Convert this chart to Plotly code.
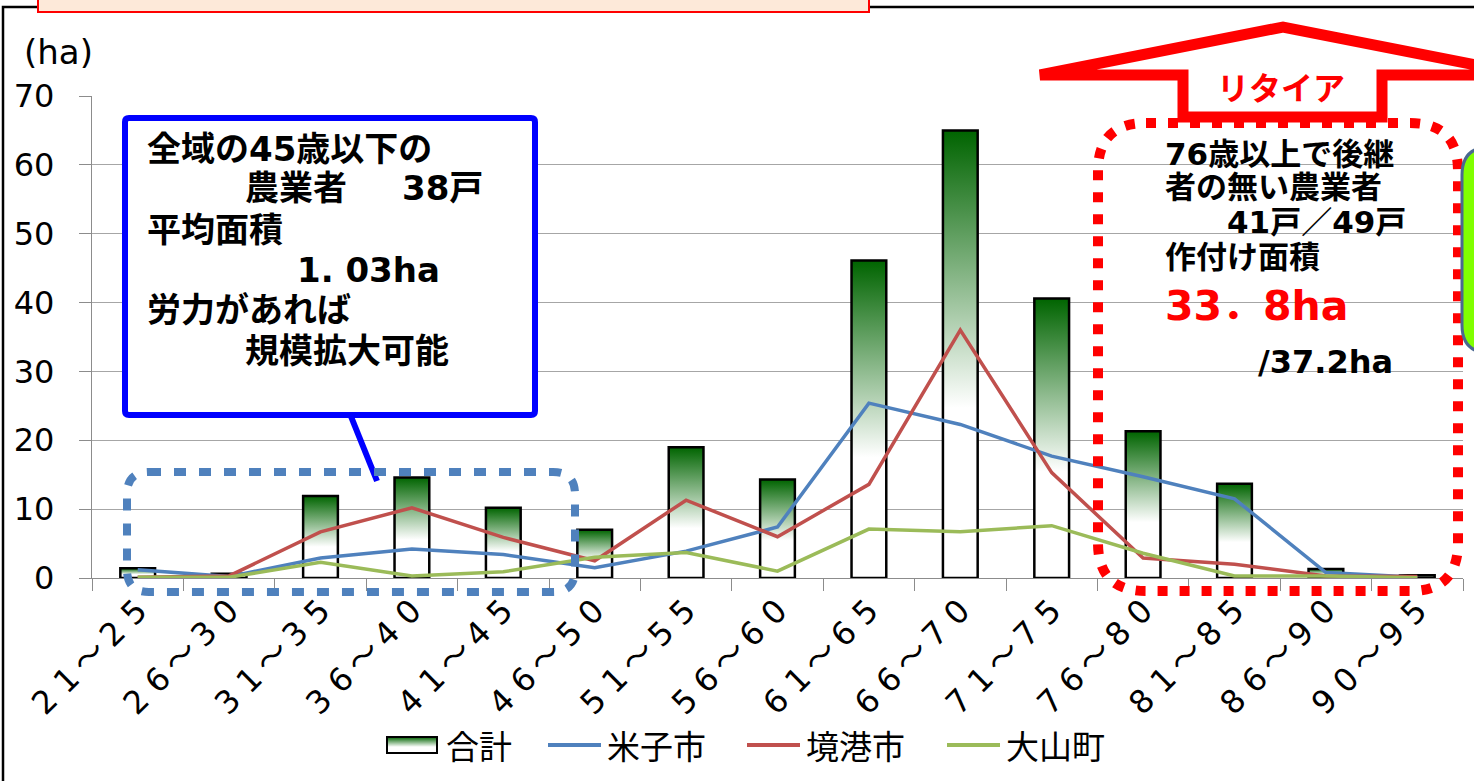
import plotly.graph_objects as go

# Farmland area by farmer age group (ha)
age_groups = ["21～25", "26～30", "31～35", "36～40", "41～45",
              "46～50", "51～55", "56～60", "61～65", "66～70",
              "71～75", "76～80", "81～85", "86～90", "90～95"]
total_ha = [1.4, 0.6, 11.9, 14.6, 10.2, 7.0, 19.0, 14.3, 46.1, 65.0, 40.6, 21.3, 13.7, 1.3, 0.4]
yonago_ha = [1.2, 0.2, 2.9, 4.2, 3.4, 1.5, 3.9, 7.4, 25.4, 22.3, 17.7, 14.7, 11.5, 0.8, 0.1]
sakaiminato_ha = [0.1, 0.3, 6.7, 10.2, 5.9, 2.5, 11.3, 6.0, 13.6, 36.0, 15.3, 2.9, 2.0, 0.3, 0.2]
daisen_ha = [0.1, 0.1, 2.3, 0.3, 0.9, 3.0, 3.7, 1.0, 7.1, 6.7, 7.6, 3.6, 0.3, 0.3, 0.05]
y_ticks = [0, 10, 20, 30, 40, 50, 60, 70]

series = [("米子市", yonago_ha, "#4F81BD"),
          ("境港市", sakaiminato_ha, "#C0504D"),
          ("大山町", daisen_ha, "#9BBB59")]

W, H = 1474, 781
PLOT_L, PLOT_R, PLOT_T, PLOT_B = 92, 1463, 96, 578
BAR_HALF = 0.19
GREEN_TOP = (0, 100, 0)
WHITE_UNTIL = 0.38

JP = "Noto Sans CJK JP"
MIX = "DejaVu Sans, Noto Sans CJK JP"


def fx(p):
    return (p - PLOT_L) / (PLOT_R - PLOT_L)


def fy(p):
    return (PLOT_B - p) / (PLOT_B - PLOT_T)


def rounded_path(x0, y0, x1, y1, r):
    return (f"M {fx(x0 + r)},{fy(y0)} L {fx(x1 - r)},{fy(y0)} "
            f"Q {fx(x1)},{fy(y0)} {fx(x1)},{fy(y0 + r)} "
            f"L {fx(x1)},{fy(y1 - r)} Q {fx(x1)},{fy(y1)} {fx(x1 - r)},{fy(y1)} "
            f"L {fx(x0 + r)},{fy(y1)} Q {fx(x0)},{fy(y1)} {fx(x0)},{fy(y1 - r)} "
            f"L {fx(x0)},{fy(y0 + r)} Q {fx(x0)},{fy(y0)} {fx(x0 + r)},{fy(y0)} Z")


def poly_path(points):
    parts = [f"{fx(x)},{fy(y)}" for x, y in points]
    return "M " + " L ".join(parts) + " Z"


def text_at(text, x, y, size, color="black", family=MIX, anchor="left"):
    return dict(text=text, x=fx(x), y=fy(y), xref="paper", yref="paper",
                xanchor=anchor, yanchor="middle", showarrow=False,
                font=dict(size=size, color=color, family=family))


def spaced(label):
    # wide-set digits around the full-width tilde
    lo, hi = label.split("～")
    return " ".join(lo) + "\u2009～\u2009" + " ".join(hi)


def gradient_color(t):
    # t: 0 at column base, 1 at column top
    if t <= WHITE_UNTIL:
        return "rgb(255,255,255)"
    k = (t - WHITE_UNTIL) / (1 - WHITE_UNTIL)
    r, g, b = (round(255 + (c - 255) * k) for c in GREEN_TOP)
    return f"rgb({r},{g},{b})"


fig = go.Figure()

# Total area: outlined columns with a green-to-white vertical gradient
for i, v in enumerate(total_ha):
    fig.add_trace(go.Scatter(
        x=[i - BAR_HALF, i - BAR_HALF, i + BAR_HALF, i + BAR_HALF, i - BAR_HALF],
        y=[0, v, v, 0, 0],
        mode="lines", fill="toself",
        line=dict(color="black", width=2.5),
        fillgradient=dict(type="vertical", start=0, stop=v,
                          colorscale=[[0, "#ffffff"], [WHITE_UNTIL, "#ffffff"], [1, "#006400"]]),
        name="合計", showlegend=False, hoverinfo="skip",
    ))

x_idx = list(range(len(age_groups)))
for name, vals, color in series:
    fig.add_trace(go.Scatter(x=x_idx, y=vals, mode="lines", name=name, showlegend=False,
                             line=dict(color=color, width=3.5)))

shapes = [
    # outer frame
    dict(type="rect", xref="paper", yref="paper", x0=fx(3), x1=fx(1500), y0=fy(7), y1=fy(800),
         line=dict(color="black", width=2.5), fillcolor="rgba(0,0,0,0)", layer="above"),
    # heading box clipped at the top edge
    dict(type="rect", xref="paper", yref="paper", x0=fx(38), x1=fx(869), y0=fy(-30), y1=fy(12),
         line=dict(color="#FF0000", width=2), fillcolor="#FDE9D9", layer="above"),
    # young-farmer callout
    dict(type="line", xref="paper", yref="paper", x0=fx(350), y0=fy(414), x1=fx(377), y1=fy(481),
         line=dict(color="#0000FF", width=6), layer="above"),
    dict(type="path", xref="paper", yref="paper", path=rounded_path(125, 118, 535, 415, 4),
         line=dict(color="#0000FF", width=6), fillcolor="white", layer="above"),
    dict(type="path", xref="paper", yref="paper", path=rounded_path(127, 472, 575, 592, 22),
         line=dict(color="#4F81BD", width=8, dash="12px,13px"), fillcolor="rgba(0,0,0,0)",
         layer="above"),
    # retirement group
    dict(type="path", xref="paper", yref="paper", path=rounded_path(1098, 123, 1458, 591, 48),
         line=dict(color="#FF0000", width=10, dash="10px,12px"), fillcolor="rgba(0,0,0,0)",
         layer="above"),
    dict(type="path", xref="paper", yref="paper",
         path=poly_path([(1040, 75), (1283, 27), (1526, 75), (1382, 75), (1382, 117),
                         (1183, 117), (1183, 75)]),
         line=dict(color="#FF0000", width=11), fillcolor="white", layer="above"),
    dict(type="path", xref="paper", yref="paper", path=rounded_path(1462, 147, 1540, 353, 28),
         line=dict(color="#4A6890", width=3), fillcolor="#80FF00", layer="above"),
]

annotations = [
    text_at("(ha)", 22, 52, 34, family="DejaVu Sans"),
    # young-farmer callout text
    text_at("<b>全域の45歳以下の</b>", 145, 149, 34),
    text_at("<b>農業者</b>", 243, 188, 34),
    text_at("<b>38戸</b>", 400, 188, 34),
    text_at("<b>平均面積</b>", 145, 230, 34),
    text_at("<b>1. 03ha</b>", 295, 270, 34),
    text_at("<b>労力があれば</b>", 145, 310, 34),
    text_at("<b>規模拡大可能</b>", 243, 351, 34),
    # retirement text
    text_at("<b>リタイア</b>", 1281, 86, 32, color="#FF0000", family=JP, anchor="center"),
    text_at("<b>76歳以上で後継</b>", 1163, 154, 31),
    text_at("<b>者の無い農業者</b>", 1163, 187, 31),
    text_at("<b>41戸／49戸</b>", 1225, 222, 31),
    text_at("<b>作付け面積</b>", 1163, 257, 31),
    text_at("<b>33．8ha</b>", 1163, 306, 41, color="#FF0000"),
    text_at("<b>/37.2ha</b>", 1256, 362, 32, family="DejaVu Sans"),
]

# Legend row: gradient swatch for the totals, line swatches for each town
LEG_Y = 745
swatch_x0, swatch_x1, swatch_y0, swatch_y1 = 387, 437, 737, 753
n_strips = swatch_y1 - swatch_y0
for s in range(n_strips):
    t = 1 - (s + 0.5) / n_strips
    shapes.append(dict(type="rect", xref="paper", yref="paper",
                       x0=fx(swatch_x0), x1=fx(swatch_x1),
                       y0=fy(swatch_y0 + s), y1=fy(swatch_y0 + s + 1),
                       line=dict(width=0), fillcolor=gradient_color(t), layer="above"))
shapes.append(dict(type="rect", xref="paper", yref="paper",
                   x0=fx(swatch_x0), x1=fx(swatch_x1), y0=fy(swatch_y0), y1=fy(swatch_y1),
                   line=dict(color="black", width=2), fillcolor="rgba(0,0,0,0)", layer="above"))
annotations.append(text_at("合計", 444, LEG_Y, 33, family=JP))

legend_line_x = [548, 747, 947]
for (name, _, color), lx in zip(series, legend_line_x):
    shapes.append(dict(type="line", xref="paper", yref="paper",
                       x0=fx(lx), x1=fx(lx + 53), y0=fy(LEG_Y), y1=fy(LEG_Y),
                       line=dict(color=color, width=4), layer="above"))
    annotations.append(text_at(name, lx + 57, LEG_Y, 33, family=JP))

fig.update_layout(
    width=W, height=H, autosize=False,
    margin=dict(l=PLOT_L, r=W - PLOT_R, t=PLOT_T, b=H - PLOT_B, pad=0),
    paper_bgcolor="white", plot_bgcolor="white",
    hovermode=False, showlegend=False,
    shapes=shapes, annotations=annotations,
    xaxis=dict(range=[-0.5, len(age_groups) - 0.5], tickmode="array", tickvals=x_idx,
               ticktext=[spaced(a) for a in age_groups], tickangle=-45, ticks="",
               showgrid=False, zeroline=False,
               showline=True, linecolor="#8C8C8C", linewidth=1.3,
               tickfont=dict(size=32, family=MIX, color="black"),
               minor=dict(tickmode="array",
                          tickvals=[i - 0.5 for i in range(len(age_groups) + 1)],
                          ticks="outside", ticklen=12, tickcolor="#8C8C8C", tickwidth=1.3,
                          showgrid=False)),
    yaxis=dict(range=[0, 70], tickmode="array", tickvals=y_ticks, ticks="outside", ticklen=12,
               tickcolor="#8C8C8C", tickwidth=1.3, showgrid=True, gridcolor="#A6A6A6",
               gridwidth=1.3, zeroline=False, showline=True, linecolor="#8C8C8C", linewidth=1.3,
               ticklabelstandoff=18,
               tickfont=dict(size=32, family="DejaVu Sans", color="black")),
)

fig.write_html("out.html")
